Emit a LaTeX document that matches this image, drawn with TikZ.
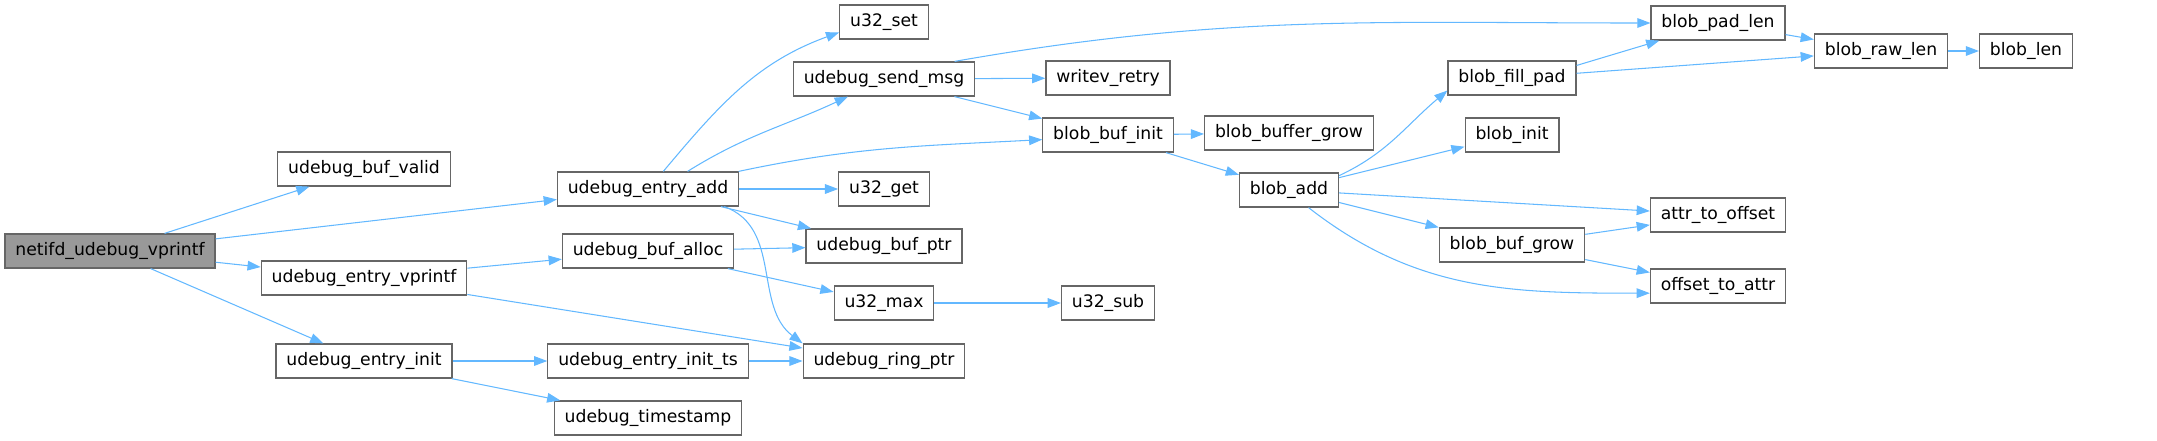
\documentclass[tikz,border=0pt]{standalone}
\usepackage{fontspec}
\usepackage{tikz}
\usetikzlibrary{arrows.meta, calc}
\newfontfamily\fnfont{DejaVu Sans}
\definecolor{edgeblue}{HTML}{63B8FF}
\definecolor{nodeborder}{HTML}{666666}
\definecolor{rootfill}{HTML}{999999}
\tikzset{
  fn/.style={rectangle, draw=nodeborder, fill=white, line width=0.7pt, minimum height=0.68cm, inner xsep=5.9pt, inner ysep=0pt, text centered, font=\fnfont\fontsize{9.8pt}{11pt}\selectfont},
  rootfn/.style={fn, fill=rootfill},
  call/.style={draw=edgeblue, line width=0.6pt, -{Triangle[length=7.5pt,width=5.5pt]}}
}

\begin{document}
\begin{tikzpicture}[x=0.02cm, y=0.02cm]
    \useasboundingbox (0,0) rectangle (2157,-440);

    % Funcion principal
    \node[rootfn] (root) at (110,-251) {netifd\_udebug\_vprintf};

    % Primer nivel
    \node[fn] (bufvalid)     at (364,-169) {udebug\_buf\_valid};
    \node[fn] (entryvprintf) at (364,-278) {udebug\_entry\_vprintf};
    \node[fn] (entryinit)    at (364,-361) {udebug\_entry\_init};

    % Segundo nivel
    \node[fn] (entryadd)    at (648,-189) {udebug\_entry\_add};
    \node[fn] (bufalloc)    at (648,-251) {udebug\_buf\_alloc};
    \node[fn] (entryinitts) at (648,-361) {udebug\_entry\_init\_ts};
    \node[fn] (timestamp)   at (648,-418) {udebug\_timestamp};

    % Tercer nivel
    \node[fn] (uset)    at (884,-22)  {u32\_set};
    \node[fn] (sendmsg) at (884,-79)  {udebug\_send\_msg};
    \node[fn] (uget)    at (884,-189) {u32\_get};
    \node[fn] (bufptr)  at (884,-246) {udebug\_buf\_ptr};
    \node[fn] (umax)    at (884,-303) {u32\_max};
    \node[fn] (ringptr) at (884,-361) {udebug\_ring\_ptr};

    % Cuarto nivel
    \node[fn] (writev)  at (1108,-78)  {writev\_retry};
    \node[fn] (bufinit) at (1108,-135) {blob\_buf\_init};
    \node[fn] (usub)    at (1108,-303) {u32\_sub};

    % Funciones blob
    \node[fn] (buffergrow) at (1289,-133) {blob\_buffer\_grow};
    \node[fn] (blobadd)    at (1289,-190) {blob\_add};
    \node[fn] (fillpad)    at (1512,-78)  {blob\_fill\_pad};
    \node[fn] (blobinit)   at (1512,-135) {blob\_init};
    \node[fn] (bufgrow)    at (1512,-245) {blob\_buf\_grow};
    \node[fn] (padlen)     at (1718,-23)  {blob\_pad\_len};
    \node[fn] (rawlen)     at (1881,-51)  {blob\_raw\_len};
    \node[fn] (bloblen)    at (2026,-51)  {blob\_len};
    \node[fn] (attroff)    at (1718,-215) {attr\_to\_offset};
    \node[fn] (offattr)    at (1718,-286) {offset\_to\_attr};

    % Llamadas desde la funcion principal
    \draw[call] (root) -- (bufvalid);
    \draw[call] (root) -- (entryadd);
    \draw[call] (root) -- (entryvprintf);
    \draw[call] (root) -- (entryinit);

    \draw[call] (entryvprintf) -- (bufalloc);
    \draw[call] (entryvprintf) -- (ringptr);
    \draw[call] (entryinit) -- (entryinitts);
    \draw[call] (entryinit) -- (timestamp);

    % Llamadas de udebug_entry_add
    \draw[call] (entryadd.49) to[out=50, in=200] (uset.193);
    \draw[call] (entryadd.24) to[out=32, in=205] (sendmsg.206);
    \draw[call] (entryadd.11) to[out=12, in=183] (bufinit.184);
    \draw[call] (entryadd) -- (uget);
    \draw[call] (entryadd) -- (bufptr);
    \draw[call] (entryadd.-13) to[out=-20, in=143] (ringptr.north west);

    \draw[call] (bufalloc) -- (bufptr);
    \draw[call] (bufalloc) -- (umax);
    \draw[call] (umax) -- (usub);
    \draw[call] (entryinitts) -- (ringptr);

    % Llamadas de udebug_send_msg
    \draw[call] (sendmsg.14) to[out=10, in=180] (padlen.west);
    \draw[call] (sendmsg) -- (writev);
    \draw[call] (sendmsg) -- (bufinit);

    % Llamadas blob
    \draw[call] (bufinit) -- (buffergrow);
    \draw[call] (bufinit) -- (blobadd);
    \draw[call] (blobadd.16) to[out=25, in=220] (fillpad.191);
    \draw[call] (blobadd) -- (blobinit);
    \draw[call] (blobadd) -- (attroff);
    \draw[call] (blobadd) -- (bufgrow.north west);
    \draw[call] (blobadd.-42) to[out=-38, in=180] (offattr.186);
    \draw[call] (fillpad.11) -- (padlen);
    \draw[call] (fillpad) -- (rawlen);
    \draw[call] (padlen) -- (rawlen);
    \draw[call] (rawlen) -- (bloblen);
    \draw[call] (bufgrow) -- (attroff);
    \draw[call] (bufgrow) -- (offattr);

\end{tikzpicture}
\end{document}
